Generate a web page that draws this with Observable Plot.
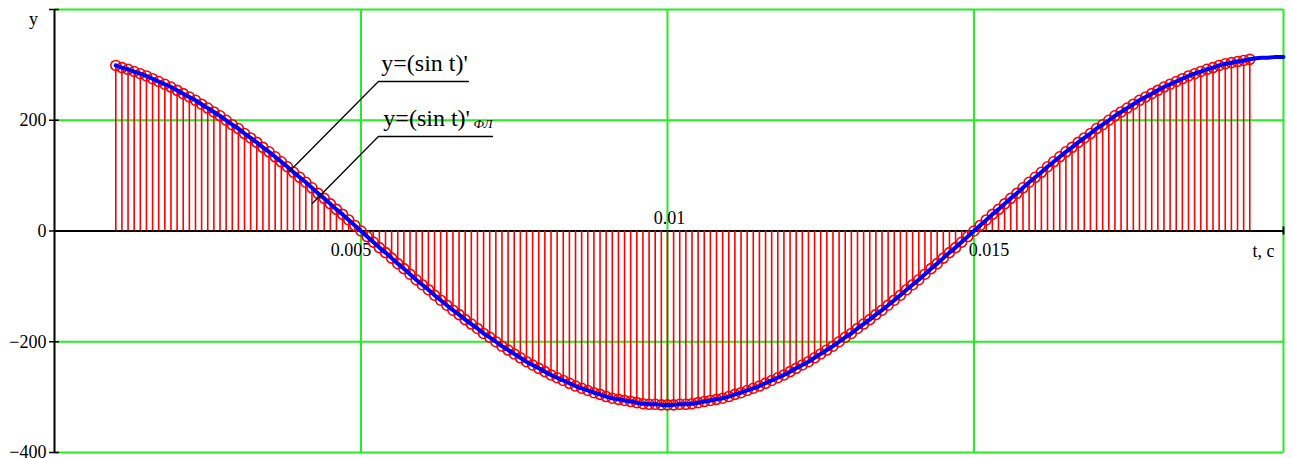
<!DOCTYPE html>
<html>
<head>
<meta charset="utf-8">
<script src="https://cdn.jsdelivr.net/npm/d3@7"></script>
<script src="https://cdn.jsdelivr.net/npm/@observablehq/plot@0.6"></script>
<style>
  html, body { margin: 0; padding: 0; background: #fff; }
  #chart svg { display: block; }
</style>
</head>
<body>
<div id="chart"></div>
<script>
// Sample times, s
const t = [
  0.0010,0.0011,0.0012,0.0013,0.0014,0.0015,0.0016,0.0017,0.0018,0.0019,
  0.0020,0.0021,0.0022,0.0023,0.0024,0.0025,0.0026,0.0027,0.0028,0.0029,
  0.0030,0.0031,0.0032,0.0033,0.0034,0.0035,0.0036,0.0037,0.0038,0.0039,
  0.0040,0.0041,0.0042,0.0043,0.0044,0.0045,0.0046,0.0047,0.0048,0.0049,
  0.0050,0.0051,0.0052,0.0053,0.0054,0.0055,0.0056,0.0057,0.0058,0.0059,
  0.0060,0.0061,0.0062,0.0063,0.0064,0.0065,0.0066,0.0067,0.0068,0.0069,
  0.0070,0.0071,0.0072,0.0073,0.0074,0.0075,0.0076,0.0077,0.0078,0.0079,
  0.0080,0.0081,0.0082,0.0083,0.0084,0.0085,0.0086,0.0087,0.0088,0.0089,
  0.0090,0.0091,0.0092,0.0093,0.0094,0.0095,0.0096,0.0097,0.0098,0.0099,
  0.0100,0.0101,0.0102,0.0103,0.0104,0.0105,0.0106,0.0107,0.0108,0.0109,
  0.0110,0.0111,0.0112,0.0113,0.0114,0.0115,0.0116,0.0117,0.0118,0.0119,
  0.0120,0.0121,0.0122,0.0123,0.0124,0.0125,0.0126,0.0127,0.0128,0.0129,
  0.0130,0.0131,0.0132,0.0133,0.0134,0.0135,0.0136,0.0137,0.0138,0.0139,
  0.0140,0.0141,0.0142,0.0143,0.0144,0.0145,0.0146,0.0147,0.0148,0.0149,
  0.0150,0.0151,0.0152,0.0153,0.0154,0.0155,0.0156,0.0157,0.0158,0.0159,
  0.0160,0.0161,0.0162,0.0163,0.0164,0.0165,0.0166,0.0167,0.0168,0.0169,
  0.0170,0.0171,0.0172,0.0173,0.0174,0.0175,0.0176,0.0177,0.0178,0.0179,
  0.0180,0.0181,0.0182,0.0183,0.0184,0.0185,0.0186,0.0187,0.0188,0.0189,
  0.0190,0.0191,0.0192,0.0193,0.0194,0.0195
];

// Finite-difference derivative (sin t)'_ФЛ at each sample
const dFL = [
  299,295,292,288,284,280,275,270,265,260,
  254,248,242,236,229,222,215,208,200,192,
  185,176,168,160,151,143,134,125,116,106,
  97,88,78,68,59,49,39,30,20,10,
  0,-10,-20,-30,-39,-49,-59,-68,-78,-88,
  -97,-106,-116,-125,-134,-143,-151,-160,-168,-176,
  -185,-192,-200,-208,-215,-222,-229,-236,-242,-248,
  -254,-260,-265,-270,-275,-280,-284,-288,-292,-295,
  -299,-302,-304,-306,-308,-310,-312,-313,-313,-314,
  -314,-314,-313,-313,-312,-310,-308,-306,-304,-302,
  -299,-295,-292,-288,-284,-280,-275,-270,-265,-260,
  -254,-248,-242,-236,-229,-222,-215,-208,-200,-192,
  -185,-176,-168,-160,-151,-143,-134,-125,-116,-106,
  -97,-88,-78,-68,-59,-49,-39,-30,-20,-10,
  0,10,20,30,39,49,59,68,78,88,
  97,106,116,125,134,143,151,160,168,176,
  185,192,200,208,215,222,229,236,242,248,
  254,260,265,270,275,280,284,288,292,295,
  299,302,304,306,308,310
];

// Analytic derivative continues past the last sample to the end of the range
const tTail = [0.0196,0.0197,0.0198,0.0199,0.0200,0.02005];
const dTail = [312,313,313,314,314,314];

const tMax = 0.02005;
const xGrid = [0.005, 0.01, 0.015, tMax];
const yGrid = [-400, -200, 200, 400];
const yTicks = [-400, -200, 0, 200, 400];
const yTickLabels = ["\u2212400", "\u2212200", "0", "200", ""];
const xTickLabels = ["0.005", "0.01", "0.015"];

const fl = t.map((v, i) => ({t: v, d: dFL[i]}));
const exact = fl.concat(tTail.map((v, i) => ({t: v, d: dTail[i]})));
const yLabelRows = yTicks.map((v, i) => ({v, label: yTickLabels[i]}));

const serif = "'Liberation Serif', 'Times New Roman', serif";
const green = "#22ee22";

const chart = Plot.plot({
  width: 1292,
  height: 458,
  marginLeft: 54,
  marginRight: 9,
  marginTop: 9,
  marginBottom: 6,
  style: {fontFamily: serif, background: "#fff", color: "#000"},
  x: {domain: [0, tMax], axis: null},
  y: {domain: [-400, 400], axis: null},
  marks: [
    // grid
    Plot.ruleX(xGrid, {y1: -400, y2: 400, stroke: green, strokeWidth: 2}),
    Plot.ruleY(yGrid, {x1: 0, x2: tMax, stroke: green, strokeWidth: 2}),

    // axes
    Plot.ruleX([0], {y1: -400, y2: 400, stroke: "#000", strokeWidth: 2}),
    Plot.ruleY([0], {x1: 0, x2: tMax, stroke: "#000", strokeWidth: 2}),
    Plot.ruleY(yTicks, {x1: 0, x2: 0, insetLeft: -5, insetRight: -5, stroke: "#000", strokeWidth: 1.5}),
    Plot.ruleX([tMax], {y1: 0, y2: 0, insetTop: -4, insetBottom: -4, stroke: "#000", strokeWidth: 2}),

    // y tick labels
    Plot.text(yLabelRows, {x: 0, y: "v", text: "label", textAnchor: "end", dx: -8, fontSize: 18, fill: "#000"}),
    Plot.text(["y"], {x: 0, y: 400, text: d => d, dx: -21, dy: 10, fontSize: 18, fill: "#000"}),

    // x tick labels
    Plot.text([xTickLabels[0]], {x: 0.005, y: 0, text: d => d, dx: -10, dy: 19, fontSize: 18, fill: "#000"}),
    Plot.text([xTickLabels[1]], {x: 0.01, y: 0, text: d => d, dx: 2, dy: -13, fontSize: 18, fill: "#000"}),
    Plot.text([xTickLabels[2]], {x: 0.015, y: 0, text: d => d, dx: 15, dy: 19, fontSize: 18, fill: "#000"}),
    Plot.text(["t, c"], {x: tMax, y: 0, text: d => d, dx: -20, dy: 20, fontSize: 18, fill: "#000"}),

    // finite-difference samples: stems and circles
    Plot.ruleX(fl, {x: "t", y1: 0, y2: "d", stroke: "#ff0000", strokeWidth: 1.6}),
    Plot.dot(fl, {x: "t", y: "d", r: 5, stroke: "#ff0000", strokeWidth: 1.6, fill: "none"}),

    // analytic derivative
    Plot.line(exact, {x: "t", y: "d", stroke: "#0000ff", strokeWidth: 4}),

    // callouts
    Plot.line([[0.003831, 107.5], [0.005284, 270], [0.006752, 270]], {stroke: "#000", strokeWidth: 1.3}),
    Plot.line([[0.004206, 49.7], [0.005284, 170.7], [0.007144, 170.7]], {stroke: "#000", strokeWidth: 1.3}),
    Plot.text(["y=(sin t)'"], {x: 0.005332, y: 302.5, text: d => d, textAnchor: "start", fontSize: 24, fill: "#000"}),
    Plot.text(["y=(sin t)'"], {x: 0.005365, y: 203.2, text: d => d, textAnchor: "start", fontSize: 24, fill: "#000"}),
    Plot.text(["\u0424\u041B"], {x: 0.006834, y: 192.7, text: d => d, textAnchor: "start", fontSize: 13, fontStyle: "italic", fill: "#000"})
  ]
});

document.getElementById("chart").appendChild(chart);
</script>
</body>
</html>
